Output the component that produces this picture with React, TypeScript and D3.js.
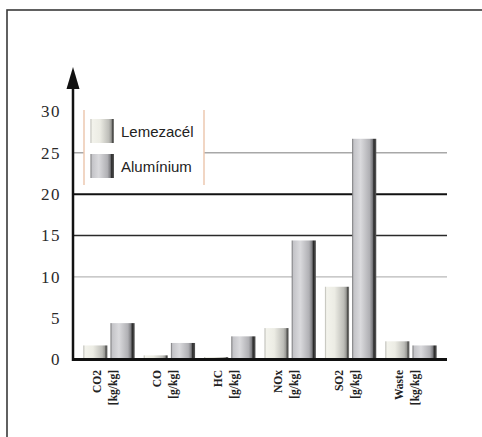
import React from "react";
import * as d3 from "d3";

// Emission categories with their units and the two material series
const categories = ["CO2", "CO", "HC", "NOx", "SO2", "Waste"];
const units = ["[kg/kg]", "[g/kg]", "[g/kg]", "[g/kg]", "[g/kg]", "[kg/kg]"];
const lemezacel = [1.7, 0.5, 0.3, 3.8, 8.8, 2.2];
const aluminium = [4.4, 2.0, 2.8, 14.4, 26.7, 1.7];
const yTicks = [0, 5, 10, 15, 20, 25, 30];
const seriesNames = ["Lemezacél", "Alumínium"];

// Horizontal reference lines and their styles
const gridLines = [
  { v: 10, color: "#b8b8b8", w: 1.2 },
  { v: 15, color: "#2a2a2a", w: 1.6 },
  { v: 20, color: "#111", w: 2 },
  { v: 25, color: "#a8a8a8", w: 1.5 },
];

const W = 482;
const H = 437;
const axisX = 73;
const plotRight = 447;

export default function App() {
  const y = d3.scaleLinear().domain([0, 30]).range([359.5, 111.5]);
  const x = d3
    .scaleBand<string>()
    .domain(categories)
    .range([78.5, 441.5])
    .paddingInner(0.15)
    .paddingOuter(0.08);
  const gap = 3;
  const barW = (x.bandwidth() - gap) / 2;
  const serif = "'Liberation Serif', 'DejaVu Serif', serif";
  const sans = "'Liberation Sans', Arial, sans-serif";

  const legendTop = 110;
  const legendBottom = 185;
  const legendL = 84;
  const legendR = 204;

  return (
    <svg
      width={W}
      height={H}
      style={{ position: "absolute", left: 0, top: 0, background: "#fff" }}
    >
      <defs>
        <linearGradient id="gLem" x1="0" x2="1" y1="0" y2="0">
          <stop offset="0%" stopColor="#b5b5ae" />
          <stop offset="7%" stopColor="#f3f3ec" />
          <stop offset="40%" stopColor="#ecece4" />
          <stop offset="78%" stopColor="#bdbdb8" />
          <stop offset="88%" stopColor="#9a9a96" />
          <stop offset="94%" stopColor="#4a4a48" />
          <stop offset="100%" stopColor="#8a8a88" />
        </linearGradient>
        <linearGradient id="gAlu" x1="0" x2="1" y1="0" y2="0">
          <stop offset="0%" stopColor="#6e6e70" />
          <stop offset="7%" stopColor="#c4c4c8" />
          <stop offset="35%" stopColor="#dadadd" />
          <stop offset="72%" stopColor="#b0b0b4" />
          <stop offset="84%" stopColor="#7e7e82" />
          <stop offset="90%" stopColor="#2a2a2a" />
          <stop offset="100%" stopColor="#5a5a5a" />
        </linearGradient>
      </defs>

      {/* outer frame */}
      <rect x={7} y={10} width={600} height={600} fill="none" stroke="#3a3a3a" strokeWidth={1.6} />

      {/* grid */}
      {gridLines.map((g) => (
        <line
          key={g.v}
          x1={axisX}
          x2={plotRight}
          y1={y(g.v)}
          y2={y(g.v)}
          stroke={g.color}
          strokeWidth={g.w}
        />
      ))}

      {/* legend */}
      <rect x={legendL} y={legendTop} width={legendR - legendL} height={legendBottom - legendTop} fill="#fff" />
      <line x1={legendL} x2={legendL} y1={legendTop} y2={legendBottom} stroke="#ecc9b0" strokeWidth={1.5} />
      <line x1={legendR} x2={legendR} y1={legendTop} y2={legendBottom} stroke="#ecc9b0" strokeWidth={1.5} />
      {seriesNames.map((name, i) => (
        <g key={name} transform={`translate(0, ${119 + i * 35})`}>
          <rect x={90.5} y={0} width={23.5} height={24} fill={i === 0 ? "url(#gLem)" : "url(#gAlu)"} />
          <text x={121} y={17.5} fontFamily={sans} fontSize={15} fill="#222">
            {name}
          </text>
        </g>
      ))}

      {/* bars */}
      {categories.map((c, i) => {
        const x0 = x(c)!;
        return (
          <g key={c}>
            <rect
              x={x0}
              y={y(lemezacel[i])}
              width={barW}
              height={y(0) - y(lemezacel[i])}
              fill="url(#gLem)"
            />
            <rect
              x={x0 + barW + gap}
              y={y(aluminium[i])}
              width={barW}
              height={y(0) - y(aluminium[i])}
              fill="url(#gAlu)"
            />
          </g>
        );
      })}

      {/* baseline */}
      <line x1={axisX} x2={plotRight} y1={y(0)} y2={y(0)} stroke="#111" strokeWidth={3} />

      {/* y axis with arrow */}
      <line x1={axisX} x2={axisX} y1={y(0) + 1.5} y2={80} stroke="#111" strokeWidth={2.5} />
      <path d={`M${axisX - 6.5},${89} L${axisX},${67} L${axisX + 6.5},${89} Z`} fill="#111" />

      {/* y tick labels */}
      {yTicks.map((t) => (
        <text
          key={t}
          x={61}
          y={y(t)}
          dy="0.35em"
          textAnchor="end"
          fontFamily={serif}
          fontSize={17}
          letterSpacing={1.5}
          fill="#2a2a2a"
        >
          {t}
        </text>
      ))}

      {/* category labels, rotated */}
      {categories.map((c, i) => {
        const cx = x(c)! + x.bandwidth() / 2;
        return (
          <g key={c} transform={`translate(${cx}, 370) rotate(-90)`}>
            <text x={0} y={-12} dy="0.35em" textAnchor="end" fontFamily={serif} fontSize={11.5} fontWeight="bold" fill="#222">
              {c}
            </text>
            <text x={0} y={4} dy="0.35em" textAnchor="end" fontFamily={serif} fontSize={11.5} fontWeight="bold" fill="#222">
              {units[i]}
            </text>
          </g>
        );
      })}
    </svg>
  );
}
